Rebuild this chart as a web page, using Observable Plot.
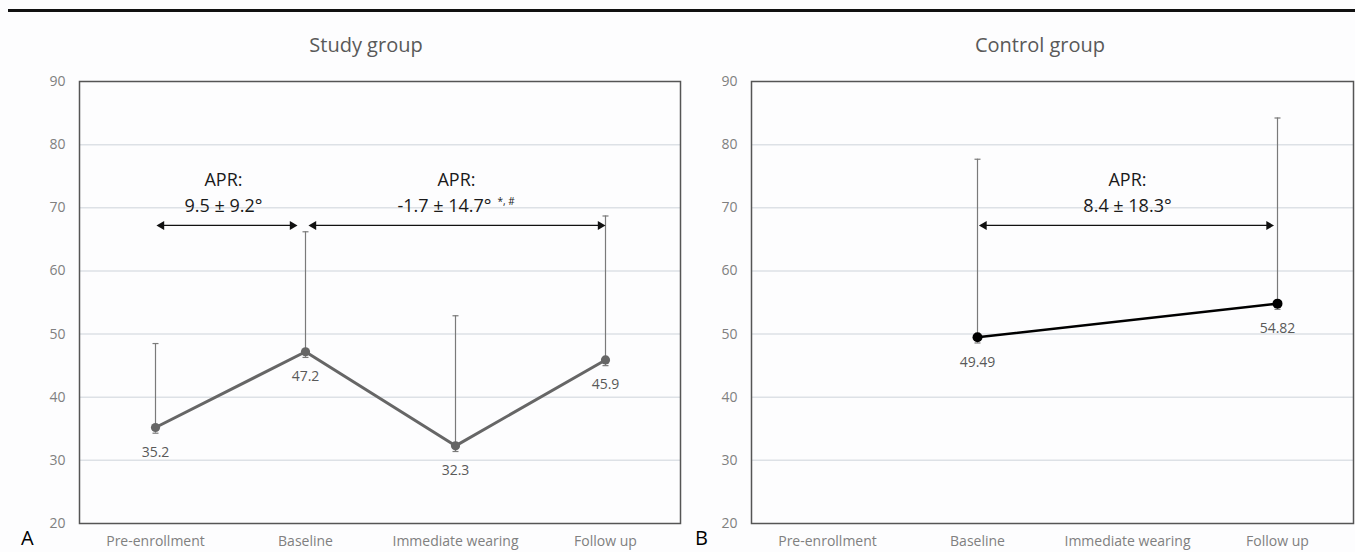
<!DOCTYPE html>
<html>
<head>
<meta charset="utf-8">
<script src="https://cdn.jsdelivr.net/npm/d3@7"></script>
<script src="https://cdn.jsdelivr.net/npm/@observablehq/plot@0.6"></script>
<style>
  body { margin: 0; background: #fdfdfe; font-family: "Open Sans", sans-serif; }
  #wrap { position: relative; width: 1355px; height: 552px; overflow: hidden; }
  .rule { position: absolute; left: 8px; top: 9px; width: 1347px; height: 3px; background: #111; }
  .title { position: absolute; top: 31px; font-size: 20px; color: #595959; transform: translateX(-50%); white-space: nowrap; }
  .panel { position: absolute; top: 0; }
  .tag { position: absolute; top: 526px; font-size: 20px; color: #000; line-height: 24px; }
</style>
</head>
<body>
<div id="wrap">
  <div class="rule"></div>
  <div id="left" class="panel" style="left:0px"></div>
  <div id="right" class="panel" style="left:700px"></div>
  <div class="title" style="left:366px">Study group</div>
  <div class="title" style="left:1040px">Control group</div>
  <div class="tag" style="left:21px">A</div>
  <div class="tag" style="left:695px">B</div>
</div>
<script>
// ---- data ----
const categories = ["Pre-enrollment", "Baseline", "Immediate wearing", "Follow up"];
const yTicks = [20, 30, 40, 50, 60, 70, 80, 90];

const studyMeans = [35.2, 47.2, 32.3, 45.9];
const studyErrPlus = [13.3, 19.0, 20.6, 22.8];
const studyErrMinus = [0.9, 0.9, 0.9, 0.9];

const controlCats = ["Baseline", "Follow up"];
const controlMeans = [49.49, 54.82];
const controlErrPlus = [28.2, 29.4];
const controlErrMinus = [0.9, 0.9];

const studyAprFrom = ["Pre-enrollment", "Baseline"];
const studyAprTo = ["Baseline", "Follow up"];
const studyAprText = ["9.5 ± 9.2°", "-1.7 ± 14.7°"];
const studyAprSup = ["", "*, #"];

const controlAprFrom = ["Baseline"];
const controlAprTo = ["Follow up"];
const controlAprText = ["8.4 ± 18.3°"];

const aprArrowY = 67.2;
const aprHeadY = 74.3;
const aprValueY = 70.3;

// ---- build rows ----
const study = categories.map((c, i) => ({
  cat: c, mean: studyMeans[i],
  hi: studyMeans[i] + studyErrPlus[i], lo: studyMeans[i] - studyErrMinus[i]
}));
const control = controlCats.map((c, i) => ({
  cat: c, mean: controlMeans[i],
  hi: controlMeans[i] + controlErrPlus[i], lo: controlMeans[i] - controlErrMinus[i]
}));
const studyApr = studyAprFrom.map((f, i) => ({from: f, to: studyAprTo[i], text: studyAprText[i], sup: studyAprSup[i]}));
const controlApr = controlAprFrom.map((f, i) => ({from: f, to: controlAprTo[i], text: controlAprText[i]}));

const font = "'Open Sans', sans-serif";
const gridColor = "#dde1e6";
const tickColor = "#808080";
const errColor = "#7a7a7a";
const aprSize = 18;

// horizontal cap symbol for error bars
const capSymbol = {draw(ctx) { ctx.moveTo(-3, 0); ctx.lineTo(3, 0); }};

function base(marginLeft, marginRight, width) {
  return {
    width, height: 552, marginLeft, marginRight, marginTop: 81, marginBottom: 29,
    style: {background: "transparent", fontFamily: font, fontSize: "14px", overflow: "visible"},
    x: {type: "point", domain: categories, padding: 0.5, label: null},
    y: {domain: [20, 90], label: null}
  };
}

function axes() {
  return [
    Plot.gridY(yTicks.slice(1, -1), {stroke: gridColor, strokeOpacity: 1, strokeWidth: 1.5}),
    Plot.axisY(yTicks, {tickSize: 0, tickPadding: 14, fill: tickColor, fontSize: 14, label: null}),
    Plot.axisX(categories, {tickSize: 0, tickPadding: 13, fill: tickColor, fontSize: 14, label: null})
  ];
}

function errorBars(rows) {
  return [
    Plot.ruleX(rows, {x: "cat", y1: "lo", y2: "hi", stroke: errColor, strokeWidth: 1.2}),
    Plot.dot(rows, {x: "cat", y: "hi", symbol: capSymbol, stroke: errColor, strokeWidth: 1.2, fill: "none"}),
    Plot.dot(rows, {x: "cat", y: "lo", symbol: capSymbol, stroke: errColor, strokeWidth: 1.2, fill: "none"})
  ];
}

function arrow(row, insetStart, insetEnd) {
  const d = [row];
  return [
    Plot.ruleY(d, {x1: "from", x2: "to", y: () => aprArrowY, stroke: "#111", strokeWidth: 1.3,
      insetLeft: insetStart + 3, insetRight: insetEnd + 3}),
    Plot.dot(d, {x: "from", y: () => aprArrowY, symbol: "triangle", r: 3.3, rotate: -90,
      fill: "#111", stroke: "none", dx: insetStart + 5.1}),
    Plot.dot(d, {x: "to", y: () => aprArrowY, symbol: "triangle", r: 3.3, rotate: 90,
      fill: "#111", stroke: "none", dx: -(insetEnd + 5.1)})
  ];
}

// ---- Study group ----
const left = Plot.plot({
  ...base(79, 20, 700),
  marks: [
    ...axes(),
    ...errorBars(study),
    Plot.line(study, {x: "cat", y: "mean", stroke: "#666", strokeWidth: 3}),
    Plot.dot(study, {x: "cat", y: "mean", r: 4.6, fill: "#666"}),
    Plot.text(study, {x: "cat", y: "mean", text: d => String(d.mean), dy: 25, fill: "#595959", fontSize: 14}),
    ...arrow(studyApr[0], 1, 8),
    ...arrow(studyApr[1], 3, 0),
    Plot.text([studyApr[0]], {x: "from", y: () => aprHeadY, text: () => "APR:", dx: 68, fontSize: aprSize, fill: "#1a1a1a"}),
    Plot.text([studyApr[0]], {x: "from", y: () => aprValueY, text: "text", dx: 68, fontSize: aprSize, fill: "#1a1a1a"}),
    Plot.text([studyApr[1]], {x: () => "Immediate wearing", y: () => aprHeadY, text: () => "APR:", dx: 1, fontSize: aprSize, fill: "#1a1a1a"}),
    Plot.text([studyApr[1]], {x: () => "Immediate wearing", y: () => aprValueY, text: "text", dx: -11, fontSize: aprSize, fill: "#1a1a1a"}),
    Plot.text([studyApr[1]], {x: () => "Immediate wearing", y: () => 71.0, text: "sup", dx: 42, textAnchor: "start", fontSize: 10, fill: "#1a1a1a"}),
    Plot.frame({stroke: "#555", strokeWidth: 1.5})
  ]
});
document.getElementById("left").appendChild(left);

// ---- Control group ----
const right = Plot.plot({
  ...base(51, 2, 655),
  marks: [
    ...axes(),
    ...errorBars(control),
    Plot.line(control, {x: "cat", y: "mean", stroke: "#000", strokeWidth: 2.6}),
    Plot.dot(control, {x: "cat", y: "mean", r: 5, fill: "#000"}),
    Plot.text(control, {x: "cat", y: "mean", text: d => String(d.mean), dy: 25, fill: "#595959", fontSize: 14}),
    ...arrow(controlApr[0], 1.5, 3.5),
    Plot.text(controlApr, {x: () => "Immediate wearing", y: () => aprHeadY, text: () => "APR:", dx: 0, fontSize: aprSize, fill: "#1a1a1a"}),
    Plot.text(controlApr, {x: () => "Immediate wearing", y: () => aprValueY, text: "text", dx: 0, fontSize: aprSize, fill: "#1a1a1a"}),
    Plot.frame({stroke: "#555", strokeWidth: 1.5})
  ]
});
document.getElementById("right").appendChild(right);
</script>
</body>
</html>
